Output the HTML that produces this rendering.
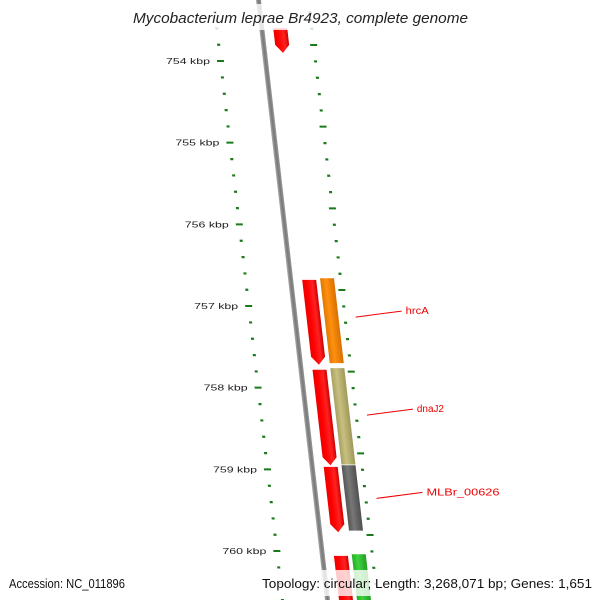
<!DOCTYPE html>
<html><head><meta charset="utf-8"><style>
html,body{margin:0;background:#fff;width:600px;height:600px;overflow:hidden}
svg{display:block;font-family:"Liberation Sans",sans-serif;overflow:hidden}
</style></head><body>
<svg id="map" width="600" height="600" viewBox="0 0 600 600" xmlns="http://www.w3.org/2000/svg">
<defs>
<linearGradient id="gBack" x1="0" x2="1"><stop offset="0" stop-color="#aaa"/><stop offset="0.5" stop-color="#777"/><stop offset="1" stop-color="#999"/></linearGradient>
<linearGradient id="gRed" x1="0" x2="1"><stop offset="0" stop-color="#e00"/><stop offset="0.3" stop-color="#f00"/><stop offset="0.7" stop-color="#f22"/><stop offset="1" stop-color="#c00"/></linearGradient>
<linearGradient id="gOrange" x1="0" x2="1"><stop offset="0" stop-color="#e07800"/><stop offset="0.4" stop-color="#ff9010"/><stop offset="1" stop-color="#d87000"/></linearGradient>
<linearGradient id="gKhaki" x1="0" x2="1"><stop offset="0" stop-color="#a8a060"/><stop offset="0.4" stop-color="#c8c080"/><stop offset="1" stop-color="#a09858"/></linearGradient>
<linearGradient id="gGray" x1="0" x2="1"><stop offset="0" stop-color="#555"/><stop offset="0.4" stop-color="#777"/><stop offset="1" stop-color="#505050"/></linearGradient>
<linearGradient id="gGreen" x1="0" x2="1"><stop offset="0" stop-color="#20b020"/><stop offset="0.4" stop-color="#40d040"/><stop offset="1" stop-color="#20a020"/></linearGradient>
<clipPath id="frame"><rect x="0" y="0" width="600" height="600"/></clipPath>
</defs>
<g clip-path="url(#frame)">
<g id="sk" transform="skewX(6.56)"></g>
<g id="labels"></g>
</g>
<rect x="125" y="4" width="350" height="26" fill="#fff" opacity="0.8"/>
<text x="133" y="23" textLength="335" lengthAdjust="spacingAndGlyphs" font-size="15" font-style="italic" fill="#222">Mycobacterium leprae Br4923, complete genome</text>
<rect x="4" y="570" width="592" height="26" fill="#fff" opacity="0.8"/>
<text x="9" y="588" textLength="116" lengthAdjust="spacingAndGlyphs" font-size="12.5" fill="#111">Accession: NC_011896</text>
<text x="262" y="588" textLength="330" lengthAdjust="spacingAndGlyphs" font-size="12.5" fill="#111">Topology: circular; Length: 3,268,071 bp; Genes: 1,651</text>
</svg>
<script>
const majorTicks=[753,754,755,756,757,758,759,760];
const tickLabels=["753 kbp","754 kbp","755 kbp","756 kbp","757 kbp","758 kbp","759 kbp","760 kbp"];
const revStarts=[753.6,756.68,757.78,758.97,760.06];
const revEnds=[753.9,757.72,758.95,759.77,760.8];
const fwdStarts=[756.66,757.76,758.95,760.04];
const fwdEnds=[757.7,758.94,759.75,760.8];
const fwdColors=["url(#gOrange)","url(#gKhaki)","url(#gGray)","url(#gGreen)"];
const geneNames=["hrcA","dnaJ2","MLBr_00626"];
const geneLabelKbp=[757.05,758.25,759.27];
const geneLabelWidths=[23,27,73];

const NS="http://www.w3.org/2000/svg";
const K=0.115;
function yScale(k){return 61+(k-754)*81.67;}
const sk=document.getElementById('sk'), lab=document.getElementById('labels');
function mk(tag,attrs,parent){const e=document.createElementNS(NS,tag);for(const a in attrs)e.setAttribute(a,attrs[a]);parent.appendChild(e);return e;}

const bb=mk('rect',{x:256,y:-10,width:5,height:615,fill:'url(#gBack)'},sk);



for(let k=753.0;k<=760.61;k+=0.2){
  const kk=Math.round(k*10)/10;
  const y=yScale(kk);
  const major=Math.abs(kk-Math.round(kk))<0.01;
  const l=mk('rect',{x:major?210:212,y:y-1,width:major?7:3,height:major?2:2.2,fill:'#1a7a1a'},sk);
  
  
  const yr=y-16;
  const r=mk('rect',{x:major?305:307,y:yr-1,width:major?7:3,height:major?2:2.2,fill:'#1a7a1a'},sk);
  
  
}
majorTicks.forEach((k,i)=>{
  const y=yScale(k);
  const t=mk('text',{x:210+K*y-51,y:y+3,'font-size':8.5,textLength:44,lengthAdjust:'spacingAndGlyphs',fill:'#222'},lab);
  t.textContent=tickLabels[i];
  
  
});
revStarts.forEach((s,i)=>{
  const y0=yScale(s), y1=yScale(revEnds[i]), x=270, w=14;
  const p=mk('polygon',{points:`${x},${y0} ${x+w},${y0} ${x+w},${y1-8} ${x+w/2},${y1} ${x},${y1-8}`,fill:'url(#gRed)'},sk);
  
  
});
fwdStarts.forEach((s,i)=>{
  const y0=yScale(s), y1=yScale(fwdEnds[i]);
  const r=mk('rect',{x:288,y:y0,width:14,height:y1-y0,fill:fwdColors[i]},sk);
  
  
});
geneNames.forEach((n,i)=>{
  const y=yScale(geneLabelKbp[i]);
  const x0=320+K*y;
  const ln=mk('line',{x1:x0,y1:y+7,x2:x0+46,y2:y+1,stroke:'#e00','stroke-width':1},lab);
  
  
  const t=mk('text',{x:x0+50,y:y+4,'font-size':10,textLength:geneLabelWidths[i],lengthAdjust:'spacingAndGlyphs',fill:'#e00'},lab);
  t.textContent=n;
  
  
});
</script>
</body></html>
